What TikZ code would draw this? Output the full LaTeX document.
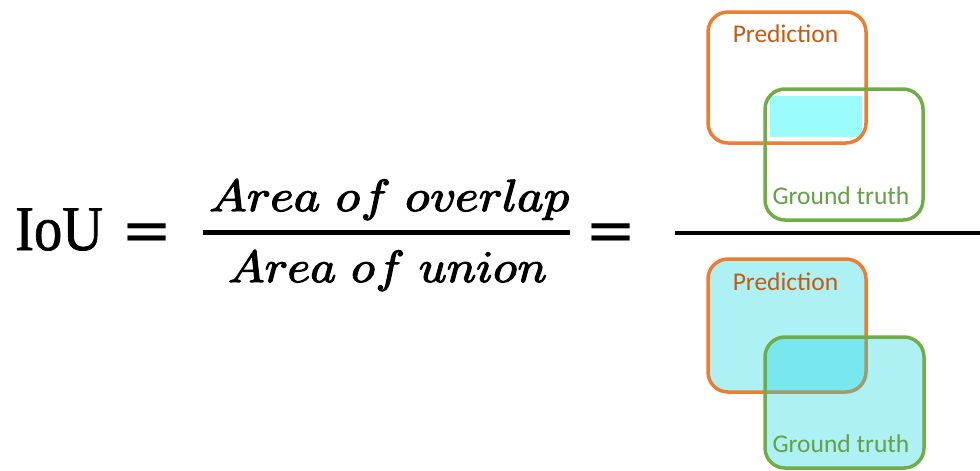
\documentclass[tikz,border=0pt]{standalone}
\usepackage{fontspec}
\usepackage{unicode-math}
\setmathfont{Latin Modern Math}[FakeBold=2.5]
\newfontfamily\calib{Carlito}
\newfontfamily\tnr{Liberation Serif}[FakeBold=1.2]
\newfontfamily\dvs{DejaVu Sans}
\definecolor{predO}{RGB}{237,125,49}
\definecolor{gtG}{RGB}{112,173,71}
\definecolor{predT}{RGB}{197,90,17}
\definecolor{gtT}{RGB}{100,160,70}
\definecolor{cyanT}{RGB}{155,252,252}
\definecolor{cyanU}{RGB}{20,215,225}
\begin{document}
\begin{tikzpicture}[x=1pt,y=-1pt,line join=round,
  box/.style={line width=3.5pt,rounded corners=20pt},
  lbl/.style={inner sep=0pt,anchor=base,font=\calib\fontsize{25.5}{30}\selectfont},
  eqsign/.style={inner sep=0pt,anchor=base,font=\dvs\fontsize{61}{70}\selectfont},
  frac/.style={inner sep=0pt,anchor=base,font=\fontsize{45}{54}\selectfont},
  bar/.style={line width=5pt}]
\useasboundingbox (0,0) rectangle (980,471);
% top picture: overlap
\fill[cyanT] (770,96) rectangle (862,137);
\draw[box,predO] (708,12) rectangle (866,143);
\draw[box,gtG] (765,89) rectangle (923,220);
\node[lbl,text=predT] (p1) at (785.5,42) {Prediction};
\node[lbl,text=gtT] (g1) at (841,204) {Ground truth};
% bottom picture: union
\fill[cyanU,opacity=0.35,rounded corners=20pt] (708,259) rectangle (866,392);
\draw[box,predO] (708,259) rectangle (866,392);
\fill[cyanU,opacity=0.35,rounded corners=20pt] (765,337) rectangle (924,468);
\draw[box,gtG] (765,337) rectangle (924,468);
\node[lbl,text=predT] (p2) at (785.5,290) {Prediction};
\node[lbl,text=gtT] (g2) at (841,452) {Ground truth};
% formula
\node[inner sep=0pt,anchor=base west,font=\tnr\fontsize{63.5}{70}\selectfont] (iou) at (15,250) {\scalebox{0.89}[1]{IoU}};
\node[eqsign] (eq1) at (147.5,251) {=};
\node[frac] (num) at (389.5,211) {\scalebox{1.12}[1]{$Area\ of\ overlap$}};
\node[frac] (den) at (387.5,282) {\scalebox{1.09}[1]{$Area\ of\ union$}};
\draw[bar] (203,232) -- (570,232);
\node[eqsign] (eq2) at (611,251) {=};
\draw[line width=4pt] (675,233) -- (980,233);
\end{tikzpicture}
\end{document}
